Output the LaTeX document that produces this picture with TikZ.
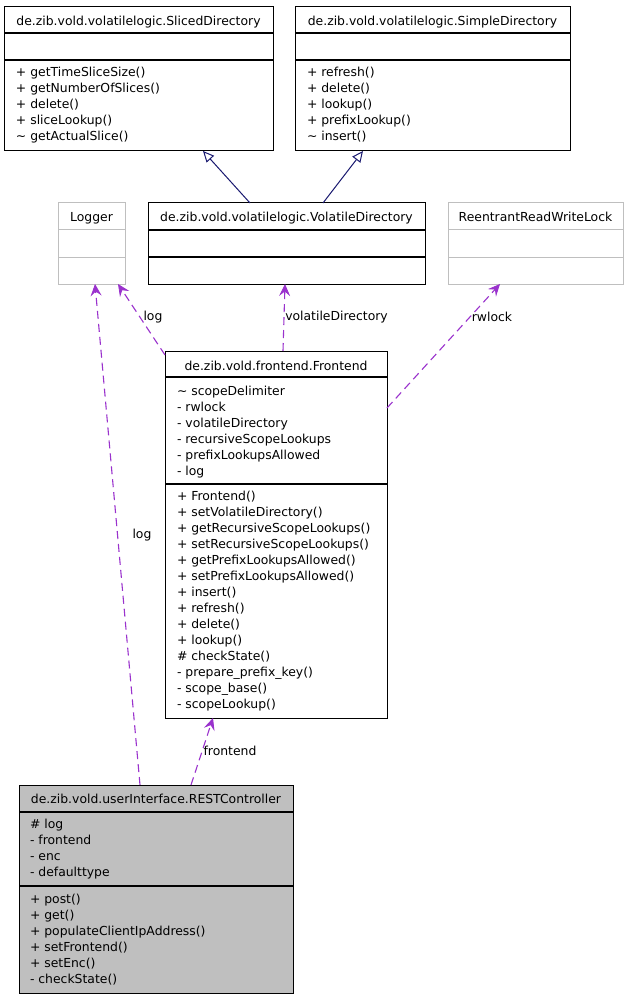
\documentclass[tikz,border=0pt]{standalone}
\usepackage{fontspec}
\setmainfont{DejaVu Sans}
\usetikzlibrary{arrows.meta}
\definecolor{usecol}{HTML}{9A32CD}
\definecolor{inhcol}{HTML}{191970}
\definecolor{greyline}{HTML}{BFBFBF}
\definecolor{restfill}{HTML}{BFBFBF}
\tikzset{
  cbox/.style={draw=black, line width=1pt, inner sep=0pt, outer sep=0pt, fill=white},
  gbox/.style={draw=greyline, line width=1pt, inner sep=0pt, outer sep=0pt, fill=white},
  sep/.style={draw=black, line width=1.4pt},
  gsep/.style={draw=greyline, line width=1pt},
  txt/.style={inner sep=0pt, outer sep=0pt, font=\fontsize{12.4}{16}\selectfont},
  usage/.style={draw=usecol, line width=1.1pt, dash pattern=on 8pt off 5pt,
    -{Stealth[length=12pt, width=11pt, inset=4.5pt, line width=0.8pt]}},
  inherit/.style={draw=inhcol, line width=1pt,
    -{Triangle[open, length=11pt, width=10pt, fill=white]}},
  lbl/.style={txt, anchor=center}
}
\begin{document}
\begin{tikzpicture}[x=1pt, y=-1pt]
\path[use as bounding box, fill=white] (0,0) rectangle (627,1000);

% ---- SlicedDirectory
\node[cbox, minimum width=269pt, minimum height=144pt] (sliced) at (138.5,79) {};
\draw[sep] (4,33) -- (273,33);
\draw[sep] (4,60) -- (273,60);
\node[txt, anchor=base] (slicedT) at (138.5,26) {de.zib.vold.volatilelogic.SlicedDirectory};
\foreach \t [count=\i] in {+ getTimeSliceSize(), + getNumberOfSlices(), + delete(), + sliceLookup(), \textasciitilde{} getActualSlice()}
  \node[txt, anchor=base west] (slicedM\i) at (16,{77+16*(\i-1)}) {\t};

% ---- SimpleDirectory
\node[cbox, minimum width=275pt, minimum height=144pt] (simple) at (432.5,79) {};
\draw[sep] (295,33) -- (570,33);
\draw[sep] (295,60) -- (570,60);
\node[txt, anchor=base] (simpleT) at (432.5,26) {de.zib.vold.volatilelogic.SimpleDirectory};
\foreach \t [count=\i] in {+ refresh(), + delete(), + lookup(), + prefixLookup(), \textasciitilde{} insert()}
  \node[txt, anchor=base west] (simpleM\i) at (307,{77+16*(\i-1)}) {\t};

% ---- Logger
\node[gbox, minimum width=67pt, minimum height=81pt] (logger) at (91.5,243.5) {};
\draw[gsep] (58,230) -- (125,230);
\draw[gsep] (58,257) -- (125,257);
\node[txt, anchor=base] (loggerT) at (91.5,222) {Logger};

% ---- VolatileDirectory
\node[cbox, minimum width=277pt, minimum height=81pt] (volatile) at (286.5,243.5) {};
\draw[sep] (148,230) -- (425,230);
\draw[sep] (148,257) -- (425,257);
\node[txt, anchor=base] (volatileT) at (286.5,222) {de.zib.vold.volatilelogic.VolatileDirectory};

% ---- ReentrantReadWriteLock
\node[gbox, minimum width=175pt, minimum height=81pt] (rrw) at (535.5,243.5) {};
\draw[gsep] (448,230) -- (623,230);
\draw[gsep] (448,257) -- (623,257);
\node[txt, anchor=base] (rrwT) at (535.5,222) {ReentrantReadWriteLock};

% ---- Frontend
\node[cbox, minimum width=222pt, minimum height=367pt] (frontend) at (276,534.5) {};
\draw[sep] (165,377) -- (387,377);
\draw[sep] (165,484) -- (387,484);
\node[txt, anchor=base] (frontendT) at (276,370) {de.zib.vold.frontend.Frontend};
\foreach \t [count=\i] in {\textasciitilde{} scopeDelimiter, - rwlock, - volatileDirectory, - recursiveScopeLookups, - prefixLookupsAllowed, - log}
  \node[txt, anchor=base west] (frontendA\i) at (177,{395+16*(\i-1)}) {\t};
\foreach \t [count=\i] in {+ Frontend(), + setVolatileDirectory(), + getRecursiveScopeLookups(), + setRecursiveScopeLookups(), + getPrefixLookupsAllowed(), + setPrefixLookupsAllowed(), + insert(), + refresh(), + delete(), + lookup(), \# checkState(), - prepare\_prefix\_key(), - scope\_base(), - scopeLookup()}
  \node[txt, anchor=base west] (frontendM\i) at (177,{500+16*(\i-1)}) {\t};

% ---- RESTController
\node[cbox, fill=restfill, minimum width=274pt, minimum height=208pt] (rest) at (156,889) {};
\draw[sep] (19,812) -- (293,812);
\draw[sep] (19,886) -- (293,886);
\node[txt, anchor=base] (restT) at (156,803.5) {de.zib.vold.userInterface.RESTController};
\foreach \t [count=\i] in {\# log, - frontend, - enc, - defaulttype}
  \node[txt, anchor=base west] (restA\i) at (30,{828+16*(\i-1)}) {\t};
\foreach \t [count=\i] in {+ post(), + get(), + populateClientIpAddress(), + setFrontend(), + setEnc(), - checkState()}
  \node[txt, anchor=base west] (restM\i) at (30,{903+16*(\i-1)}) {\t};

% ---- inheritance
\draw[inherit] ([xshift=102pt]volatile.north west) -- ([xshift=199pt]sliced.south west);
\draw[inherit] ([xshift=175pt]volatile.north west) -- ([xshift=68pt]simple.south west);

% ---- usage
\draw[usage] ([xshift=121pt]rest.north west) -- ([xshift=37pt]logger.south west);
\draw[usage] ([yshift=-4pt]frontend.north west) -- ([xshift=60pt]logger.south west);
\draw[usage] ([xshift=118pt]frontend.north west) -- ([xshift=137pt]volatile.south west);
\draw[usage] ([yshift=-57pt]frontend.north east) -- ([xshift=52pt]rrw.south west);
\draw[usage] ([xshift=172pt]rest.north west) -- ([xshift=48pt]frontend.south west);

% ---- labels
\node[lbl] (lblLog1) at (142,535) {log};
\node[lbl] (lblLog2) at (153,317) {log};
\node[lbl] (lblVol) at (336.5,317) {volatileDirectory};
\node[lbl] (lblRw) at (492,317) {rwlock};
\node[lbl] (lblFe) at (230,751) {frontend};
\end{tikzpicture}
\end{document}
